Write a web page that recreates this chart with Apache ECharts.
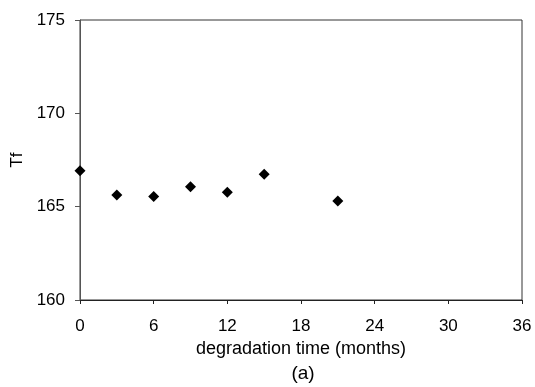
<!DOCTYPE html>
<html>
<head>
<meta charset="utf-8">
<script src="https://cdn.jsdelivr.net/npm/echarts@6/dist/echarts.min.js"></script>
<style>html,body{margin:0;padding:0;background:#fff;}#c{width:535px;height:387px;}</style>
</head>
<body>
<div id="c"></div>
<script>
const months = [0, 3, 6, 9, 12, 15, 21];
const tfValues = [166.93, 165.63, 165.54, 166.07, 165.77, 166.73, 165.3];
const xTicks = [0, 6, 12, 18, 24, 30, 36];
const yTicks = [160, 165, 170, 175];
const xTitle = 'degradation time (months)';
const yTitle = 'Tf';
const caption = '(a)';

const chart = echarts.init(document.getElementById('c'), null, {renderer: 'canvas'});
const font = 'Liberation Sans, Arial, sans-serif';
chart.setOption({
  animation: false,
  backgroundColor: '#fff',
  grid: {left: 80, right: 13, top: 20, bottom: 87, show: true, borderColor: '#333', borderWidth: 1, backgroundColor: 'transparent'},
  xAxis: {
    type: 'value', min: xTicks[0], max: xTicks[xTicks.length - 1], interval: 6,
    name: xTitle, nameLocation: 'middle', nameGap: 28,
    nameTextStyle: {fontFamily: font, fontSize: 18, color: '#000'},
    axisLine: {show: true, lineStyle: {color: '#222', width: 1}},
    axisTick: {show: true, length: 4, lineStyle: {color: '#222'}},
    axisLabel: {fontFamily: font, fontSize: 17, color: '#000', margin: 18},
    splitLine: {show: false}
  },
  yAxis: {
    type: 'value', min: yTicks[0], max: yTicks[yTicks.length - 1], interval: 5,
    name: yTitle, nameLocation: 'middle', nameGap: 53,
    nameTextStyle: {fontFamily: font, fontSize: 17, color: '#000'},
    axisLine: {show: true, lineStyle: {color: '#555', width: 1}},
    axisTick: {show: true, length: 5, lineStyle: {color: '#555'}},
    axisLabel: {fontFamily: font, fontSize: 17, color: '#000', margin: 15},
    splitLine: {show: false}
  },
  graphic: [{
    type: 'text', x: 303, y: 374,
    style: {text: caption, fontFamily: font, fontSize: 19, fill: '#000', align: 'center', verticalAlign: 'middle'}
  }],
  series: [{
    type: 'scatter',
    data: months.map((m, i) => [m, tfValues[i]]),
    symbol: 'diamond', symbolSize: 11,
    itemStyle: {color: '#000', opacity: 1}
  }]
});
</script>
</body>
</html>
